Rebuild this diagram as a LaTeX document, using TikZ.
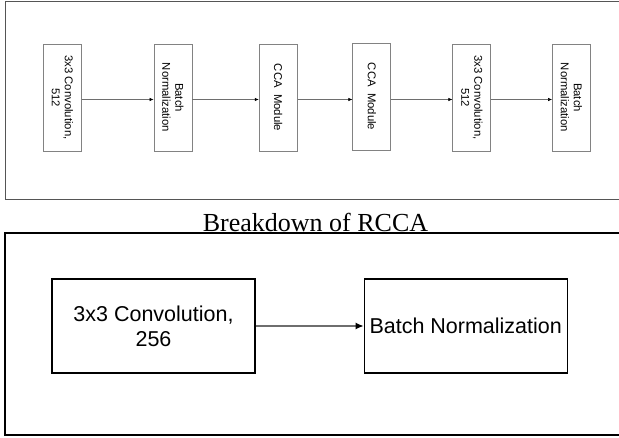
\documentclass[tikz,border=0pt]{standalone}
\usepackage{fontspec}
\setmainfont{Liberation Serif}
\setsansfont{Liberation Sans}
\usetikzlibrary{positioning}
\usetikzlibrary{arrows.meta}
\definecolor{framegray}{RGB}{85,85,85}
\definecolor{boxgray}{RGB}{130,130,130}
\definecolor{linegray}{RGB}{110,110,110}

\begin{document}
\begin{tikzpicture}[x=1pt, y=-1pt,
smallbox/.style={draw=boxgray, line width=0.8pt, rotate=-90, minimum width=107pt, minimum height=38pt, inner sep=0pt, align=center, font=\sffamily\fontsize{11.3}{13}\selectfont},
bigbox/.style={draw=black, line width=1.2pt, minimum width=203pt, minimum height=94pt, inner sep=0pt, align=center, font=\sffamily\fontsize{21.5}{25}\selectfont},
flow/.style={linegray, line width=0.6pt, -{Latex[length=4pt,width=3.5pt,color=black]}},
bigflow/.style={linegray, line width=1.3pt, -{Latex[length=8pt,width=7pt,color=black]}}]

\useasboundingbox (0,0) rectangle (619,438);
\clip (0,0) rectangle (619,438);

% frames
\draw[framegray, line width=1pt] (5,1.5) rectangle (700,200);

\node[font=\fontsize{26}{30}\selectfont, anchor=base] (title) at (315.5,232) {Breakdown of RCCA};
\draw[black, line width=1.5pt] (5,233) rectangle (700,435);

% RCCA row
\node[smallbox] (conva) at (62.5,97.5) {3x3 Convolution,\\512};
\node[smallbox] (norma) at (173,97.5) {Batch\\Normalization};
\node[smallbox] (ccaa) at (278.2,97.5) {CCA\ \ Module};
\node[smallbox] (ccab) at (371.8,96.5) {CCA\ \ Module};
\node[smallbox] (convb) at (471.8,97.5) {3x3 Convolution,\\512};
\node[smallbox] (normb) at (571.5,97.5) {Batch\\Normalization};

% north is the right side of a turned box
\draw[flow] ([yshift=-2pt]conva.north) -- ([yshift=-2pt]norma.south);
\draw[flow] ([yshift=-2pt]norma.north) -- ([yshift=-2pt]ccaa.south);
\draw[flow] ([yshift=-2pt]ccaa.north) -- ([yshift=-3pt]ccab.south);
\draw[flow] ([yshift=-3pt]ccab.north) -- ([yshift=-2pt]convb.south);
\draw[flow] ([yshift=-2pt]convb.north) -- ([yshift=-2pt]normb.south);

% breakdown
\node[bigbox] (convc) at (153.5,326) {3x3 Convolution,\\256};
\node[bigbox] (normc) at (465.7,326) {Batch Normalization};

\draw[bigflow] (convc) -- (normc);

\end{tikzpicture}
\end{document}
